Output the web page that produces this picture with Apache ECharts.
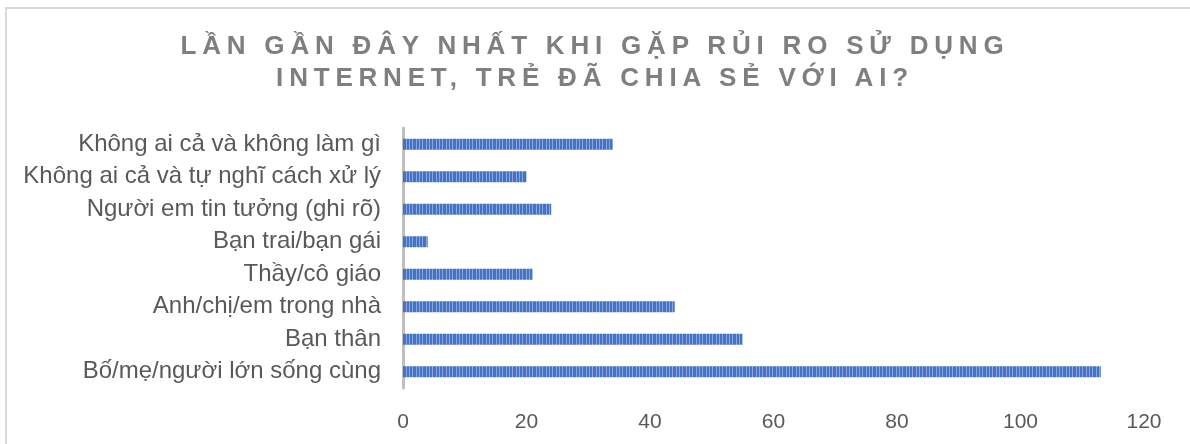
<!DOCTYPE html>
<html>
<head>
<meta charset="utf-8">
<script src="https://cdn.jsdelivr.net/npm/echarts@6/dist/echarts.min.js"></script>
<style>
  html, body { margin: 0; padding: 0; background: #fff; }
  #wrap { position: relative; width: 1190px; height: 444px; overflow: hidden; }
  #chart { position: absolute; left: 0; top: 0; width: 1190px; height: 444px; }
  #title {
    position: absolute; left: 0; top: 29px; width: 1190px;
    text-align: center; font-family: "Liberation Sans", Arial, sans-serif;
    font-weight: bold; font-size: 26px; line-height: 32px;
    letter-spacing: 5.8px; color: #7f7f7f; pointer-events: none;
  }
</style>
</head>
<body>
<div id="wrap">
  <div id="chart"></div>
  <div id="title">LẦN GẦN ĐÂY NHẤT KHI GẶP RỦI RO SỬ DỤNG<br>INTERNET, TRẺ ĐÃ CHIA SẺ VỚI AI?</div>
</div>
<script>
// danh mục, từ trên xuống dưới
const categories = [
  "Không ai cả và không làm gì",
  "Không ai cả và tự nghĩ cách xử lý",
  "Người em tin tưởng (ghi rõ)",
  "Bạn trai/bạn gái",
  "Thầy/cô giáo",
  "Anh/chị/em trong nhà",
  "Bạn thân",
  "Bố/mẹ/người lớn sống cùng"
];
const values = [34, 20, 24, 4, 21, 44, 55, 113];
const xTicks = [0, 20, 40, 60, 80, 100, 120];

// họa tiết sọc dọc cho thanh
function stripes() {
  const c = document.createElement("canvas");
  c.width = 10;
  c.height = 4;
  const ctx = c.getContext("2d");
  const cols = "DDLDDDLDDL";
  for (let i = 0; i < cols.length; i++) {
    ctx.fillStyle = cols[i] === "D" ? "#4472c4" : "#8aa6de";
    ctx.fillRect(i, 0, 1, 4);
  }
  return c;
}

const myChart = echarts.init(document.getElementById("chart"));
const option = {
  animation: false,
  graphic: [
    {
      type: "rect",
      shape: { x: 6, y: 8, width: 1300, height: 600 },
      style: { fill: "none", stroke: "#d9d9d9", lineWidth: 2 },
      silent: true
    }
  ],
  grid: {
    left: 403,
    right: 46,
    top: 128,
    bottom: 56,
    containLabel: false
  },
  xAxis: {
    type: "value",
    min: xTicks[0],
    max: xTicks[xTicks.length - 1],
    interval: 20,
    axisLine: { show: false },
    axisTick: { show: false },
    splitLine: { show: false },
    axisLabel: {
      margin: 24,
      color: "#595959",
      fontSize: 21,
      fontFamily: "Liberation Sans"
    }
  },
  yAxis: {
    type: "category",
    data: categories,
    inverse: true,
    axisLine: { show: true, lineStyle: { color: "#bfbfbf", width: 3 } },
    axisTick: { show: false },
    axisLabel: {
      margin: 22,
      color: "#595959",
      fontSize: 24,
      fontFamily: "Liberation Sans"
    }
  },
  series: [
    {
      type: "bar",
      data: values,
      barWidth: 11,
      itemStyle: {
        color: { image: stripes(), repeat: "repeat" }
      }
    }
  ]
};
myChart.setOption(option);
</script>
</body>
</html>
